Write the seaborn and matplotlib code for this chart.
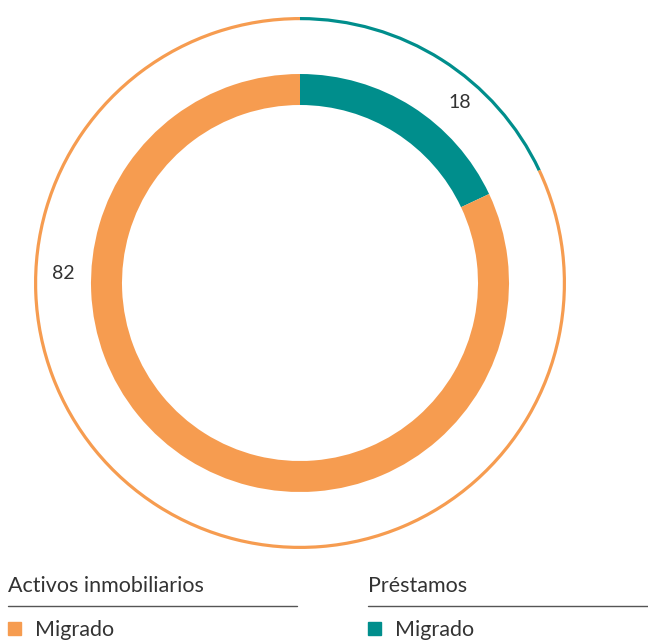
import matplotlib
matplotlib.use("Agg")
import matplotlib.pyplot as plt
import seaborn as sns
from matplotlib.lines import Line2D
from matplotlib.patches import Rectangle

# ---- data ----
categories = ["Préstamos", "Activos inmobiliarios"]
values = [18, 82]
value_labels = ["18", "82"]
legend_titles = ["Activos inmobiliarios", "Préstamos"]
legend_items = ["Migrado", "Migrado"]

sns.set_theme(style="white")
plt.rcParams['font.family'] = ['Lato', 'DejaVu Sans']

TEAL = "#008E8C"
ORANGE = "#F69C50"
TEXT = "#333333"
colors = [TEAL, ORANGE]

W, H = 648, 640
fig = plt.figure(figsize=(W / 100, H / 100), dpi=100)

# pie axes: center at (300, 283) px, outer radius 266 px
cx, cy, R = 300, 283, 266
lim = 1.05
side = 2 * R * lim
ax = fig.add_axes([(cx - side / 2) / W, (H - cy - side / 2) / H, side / W, side / H])

ax.pie(values, colors=colors, startangle=90, counterclock=False, radius=1.0,
       wedgeprops=dict(width=0.012, edgecolor='none', linewidth=0))
ax.pie(values, colors=colors, startangle=90, counterclock=False, radius=209 / R,
       wedgeprops=dict(width=31 / R, edgecolor='none', linewidth=0))
ax.set_xlim(-lim, lim)
ax.set_ylim(-lim, lim)
ax.set_aspect('equal')
ax.axis('off')

# value labels
label_pos = [(0.60, 0.677), (-0.89, 0.034)]
for txt, (x, y) in zip(value_labels, label_pos):
    ax.text(x, y, txt, ha='center', va='center', fontsize=14, color=TEXT)

# legend blocks
def fx(px):
    return px / W

def fy(py):
    return 1 - py / H

blocks = [(8, 297, ORANGE), (368, 648, TEAL)]
for (x0, x1, col), title, item in zip(blocks, legend_titles, legend_items):
    fig.text(fx(x0), fy(586), title, ha='left', va='center', fontsize=15.5, color=TEXT)
    fig.add_artist(Line2D([fx(x0), fx(x1)], [fy(606), fy(606)], color="#555555", lw=1.0,
                          transform=fig.transFigure))
    fig.add_artist(Rectangle((fx(x0), fy(635)), 13 / W, 13 / H, color=col,
                             transform=fig.transFigure))
    fig.text(fx(x0 + 27), fy(630), item, ha='left', va='center', fontsize=15.5, color=TEXT)

fig.savefig("out.png", dpi=100, facecolor='white')
